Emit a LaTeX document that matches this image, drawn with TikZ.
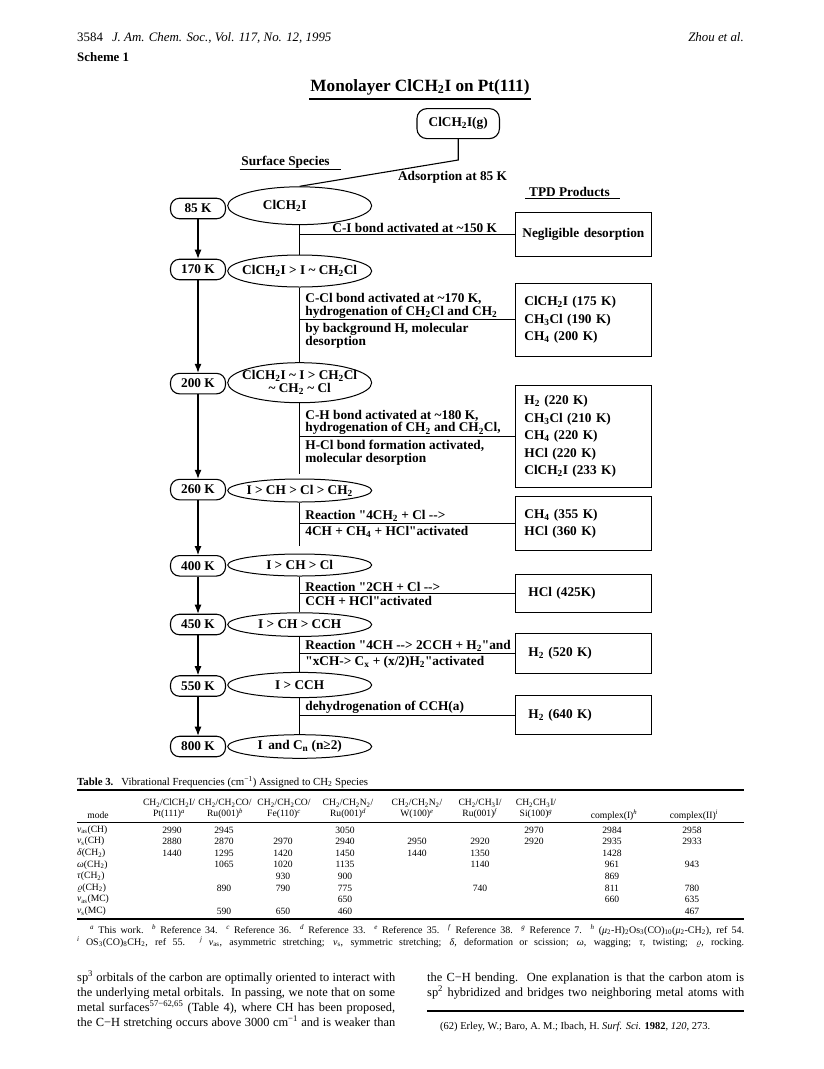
\documentclass[tikz,border=0pt]{standalone}
\usepackage{fontspec}
\setmainfont{Liberation Serif}[Ligatures=TeXOff]
\usepackage{tikz}
\usetikzlibrary{positioning, arrows.meta, calc, shapes.geometric}
\newcommand{\chemsub}[1]{\textsubscript{#1}}
\newcommand{\fnmark}[1]{\textsuperscript{\textit{#1}}}
\newcommand{\tld}{\textasciitilde}
\tikzset{
  headtext/.style={
    inner sep=0pt,
    font=\fontsize{12.9}{14}\selectfont
  },
  titletext/.style={
    inner sep=0pt,
    font=\fontsize{17.2}{18}\selectfont\bfseries
  },
  tempnode/.style={
    rectangle,
    draw,
    rounded corners=9pt,
    line width=1.1pt,
    minimum width=55pt,
    minimum height=20.5pt,
    inner sep=0pt,
    font=\fontsize{13.3}{13}\selectfont\bfseries
  },
  specnode/.style={
    ellipse,
    draw,
    line width=1pt,
    minimum width=144pt,
    inner xsep=-20pt,
    inner ysep=-10pt,
    align=center,
    font=\fontsize{13.3}{13}\selectfont\bfseries
  },
  prodnode/.style={
    rectangle,
    draw,
    line width=1pt,
    minimum width=135.7pt,
    text width=118pt,
    inner xsep=8.8pt,
    inner ysep=0pt,
    align=left,
    font=\fontsize{13.3}{17.5}\selectfont\bfseries
  },
  notetext/.style={
    inner sep=1.5pt,
    align=left,
    font=\fontsize{13.3}{12.8}\selectfont\bfseries
  },
  linkline/.style={
    line width=1.1pt
  },
  tempflow/.style={
    line width=1.1pt,
    -{Latex[length=9pt,width=7pt]}
  },
  modecell/.style={
    anchor=west,
    inner sep=0pt,
    font=\fontsize{9.6}{11}\selectfont
  },
  valcell/.style={
    inner sep=0pt,
    font=\fontsize{9.6}{11}\selectfont
  },
  headcell/.style={
    inner sep=0pt,
    align=center,
    font=\fontsize{9.6}{11}\selectfont
  },
  bodytext/.style={
    anchor=base west,
    inner sep=0pt,
    font=\fontsize{12.4}{15}\selectfont
  }
}
\newcommand{\tabrow}[4]{%
  \node[modecell] (#1) at (77,#2) {#3};
  \foreach \v [count=\i] in {#4} {%
    \pgfmathsetmacro{\cx}{{172,224,283,345,417,480,534,612,692}[\i-1]}%
    \node[valcell] (#1-\i) at (\cx,#2) {\v};
  }%
}

\begin{document}
\begin{tikzpicture}[x=1pt, y=-1pt]
  \useasboundingbox[fill=white] (0,0) rectangle (823,1069);

  % page head
  \node[headtext, anchor=base west] (headl) at (77,41)
    {3584\hspace{9pt}\textit{J. Am. Chem. Soc., Vol. 117, No. 12, 1995}};
  \node[headtext, anchor=base east] (headr) at (744,41) {\textit{Zhou et al.}};
  \node[headtext, anchor=base west] (schemelbl) at (77,61) {\textbf{Scheme 1}};

  % scheme
  \node[titletext, anchor=base] (title) at (420,91) {Monolayer ClCH\chemsub{2}I on Pt(111)};
  \draw[line width=1.6pt] ($(title.base west)+(-1,8)$) -- ($(title.base east)+(1,8)$);

  \node[tempnode, minimum width=82.5pt, minimum height=30pt, rounded corners=10pt] (gas)
    at (458.2,123.6) {ClCH\chemsub{2}I(g)};
  \node[notetext] (surf) at (285.5,162) {Surface Species};
  \draw[line width=1pt] (surf.south west) -- ($(surf.south east)+(10,0)$);
  \node[notetext] (adsorb) at (452.5,177.4) {Adsorption at 85 K};
  \node[notetext] (tpd) at (569.5,191.6) {TPD Products};
  \draw[line width=1pt] ($(tpd.south west)+(-2,0)$) -- ($(tpd.south east)+(8,0)$);

  \node[tempnode] (t85)  at (198,208.5) {85 K};
  \node[tempnode] (t170) at (198,269.5) {170 K};
  \node[tempnode] (t200) at (198,383.6) {200 K};
  \node[tempnode] (t260) at (198,489.6) {260 K};
  \node[tempnode] (t400) at (198,565.8) {400 K};
  \node[tempnode] (t450) at (198,624.5) {450 K};
  \node[tempnode] (t550) at (198,686)   {550 K};
  \node[tempnode] (t800) at (198,746.5) {800 K};

  \node[specnode, minimum height=37.8pt] (e85)  at (299.7,205.7) {ClCH\chemsub{2}I\hspace{30pt}};
  \node[specnode, minimum height=32pt]   (e170) at (299.7,271)   {ClCH\chemsub{2}I > I \tld{} CH\chemsub{2}Cl};
  \node[specnode, minimum height=40pt]   (e200) at (299.7,382.7)
    {ClCH\chemsub{2}I \tld{} I > CH\chemsub{2}Cl\\\tld{} CH\chemsub{2} \tld{} Cl\hspace{20pt}};
  \node[specnode, minimum height=23pt]   (e260) at (299.7,490.5) {I > CH > Cl > CH\chemsub{2}};
  \node[specnode, minimum height=22pt]   (e400) at (299.7,565)   {I > CH > Cl};
  \node[specnode, minimum height=23.6pt] (e450) at (299.7,624.6) {I > CH > CCH};
  \node[specnode, minimum height=25.2pt] (e550) at (299.7,685)   {I > CCH};
  \node[specnode, minimum height=23.6pt] (e800) at (299.7,746.5) {I\, and C\chemsub{n} (n≥2)};

  \node[prodnode, align=center, text width=125pt, inner xsep=5.35pt, minimum height=43.8pt] (p85)
    at (583.4,234.7) {Negligible desorption};
  \node[prodnode, minimum height=72.3pt] (p170) at (583.4,319.9)
    {ClCH\chemsub{2}I (175 K)\\CH\chemsub{3}Cl (190 K)\\CH\chemsub{4} (200 K)};
  \node[prodnode, minimum height=102.7pt] (p200) at (583.4,436.6)
    {H\chemsub{2} (220 K)\\CH\chemsub{3}Cl (210 K)\\CH\chemsub{4} (220 K)\\HCl (220 K)\\ClCH\chemsub{2}I (233 K)};
  \node[prodnode, minimum height=53.9pt] (p260) at (583.4,523.6)
    {CH\chemsub{4} (355 K)\\HCl (360 K)};
  \node[prodnode, minimum height=38.7pt] (p400) at (583.4,593.5) {\hspace{4pt}HCl (425K)};
  \node[prodnode, minimum height=39.7pt] (p450) at (583.4,653.5) {\hspace{4pt}H\chemsub{2} (520 K)};
  \node[prodnode, minimum height=38.7pt] (p550) at (583.4,715.3) {\hspace{4pt}H\chemsub{2} (640 K)};

  \coordinate (bend) at (gas.south |- 0,160);
  \draw[linkline] (gas.south) -- (bend) -- (e85.north);

  \foreach \a/\b in {t85/t170, t170/t200, t200/t260, t260/t400, t400/t450, t450/t550, t550/t800}
    \draw[tempflow] (\a.south) -- (\b.north);

  \foreach \a/\b in {e85/e170, e170/e200, e400/e450, e450/e550, e550/e800}
    \draw[linkline] (\a.south) -- (\b.north);
  \draw[linkline, shorten >=5pt] (e200.south) -- (e260.north);
  \draw[linkline, shorten >=8pt] (e260.south) -- (e400.north);

  \foreach \e/\p in {e85/p85, e170/p170, e200/p200, e260/p260, e400/p400, e450/p450, e550/p550}
    \draw[linkline] (\e.south |- \p.west) -- (\p.west);

  \node[notetext, anchor=south west, xshift=31pt] (n85) at (e85.south |- p85.west)
    {C-I bond activated at \tld150 K};
  \node[notetext, anchor=south west, xshift=4pt] (n170a) at (e170.south |- p170.west)
    {C-Cl bond activated at \tld170 K,\\hydrogenation of CH\chemsub{2}Cl and CH\chemsub{2}};
  \node[notetext, anchor=north west, xshift=4pt, yshift=-2pt] (n170b) at (e170.south |- p170.west)
    {by background H, molecular\\desorption};
  \node[notetext, anchor=south west, xshift=4pt] (n200a) at (e200.south |- p200.west)
    {C-H bond activated at \tld180 K,\\hydrogenation of CH\chemsub{2} and CH\chemsub{2}Cl,};
  \node[notetext, anchor=north west, xshift=4pt, yshift=-2pt] (n200b) at (e200.south |- p200.west)
    {H-Cl bond formation activated,\\molecular desorption};
  \node[notetext, anchor=south west, xshift=4pt] (n260a) at (e260.south |- p260.west)
    {Reaction "4CH\chemsub{2} + Cl -->};
  \node[notetext, anchor=north west, xshift=4pt, yshift=-1pt] (n260b) at (e260.south |- p260.west)
    {4CH + CH\chemsub{4} + HCl"activated};
  \node[notetext, anchor=south west, xshift=4pt] (n400a) at (e400.south |- p400.west)
    {Reaction "2CH + Cl -->};
  \node[notetext, anchor=north west, xshift=4pt, yshift=-1pt] (n400b) at (e400.south |- p400.west)
    {CCH + HCl"activated};
  \node[notetext, anchor=south west, xshift=4pt] (n450a) at (e450.south |- p450.west)
    {Reaction "4CH --> 2CCH + H\chemsub{2}"and};
  \node[notetext, anchor=north west, xshift=4pt, yshift=-1pt] (n450b) at (e450.south |- p450.west)
    {"xCH-> C\chemsub{x} + (x/2)H\chemsub{2}"activated};
  \node[notetext, anchor=south west, xshift=4pt] (n550a) at (e550.south |- p550.west)
    {dehydrogenation of CCH(a)};

  % table
  \node[anchor=west, inner sep=0pt, font=\fontsize{10.8}{12}\selectfont] (tabcap) at (77,782)
    {\textbf{Table 3.}\hspace{8pt}Vibrational Frequencies (cm\textsuperscript{−1}) Assigned to CH\chemsub{2} Species};
  \draw[line width=1.3pt] (77,790) -- (744,790);
  \draw[line width=0.6pt] (77,822) -- (744,822);
  \draw[line width=1.3pt] (77,919) -- (744,919);

  \node[headcell] (hmode) at (98,815) {mode};
  \node[headcell] (h1) at (169,809) {CH\chemsub{2}/ClCH\chemsub{2}I/\\Pt(111)\fnmark{a}};
  \node[headcell] (h2) at (225,809) {CH\chemsub{2}/CH\chemsub{2}CO/\\Ru(001)\fnmark{b}};
  \node[headcell] (h3) at (284,809) {CH\chemsub{2}/CH\chemsub{2}CO/\\Fe(110)\fnmark{c}};
  \node[headcell] (h4) at (348,809) {CH\chemsub{2}/CH\chemsub{2}N\chemsub{2}/\\Ru(001)\fnmark{d}};
  \node[headcell] (h5) at (417,809) {CH\chemsub{2}/CH\chemsub{2}N\chemsub{2}/\\W(100)\fnmark{e}};
  \node[headcell] (h6) at (480,809) {CH\chemsub{2}/CH\chemsub{3}I/\\Ru(001)\fnmark{f}};
  \node[headcell] (h7) at (536,809) {CH\chemsub{2}CH\chemsub{3}I/\\Si(100)\fnmark{g}};
  \node[headcell] (h8) at (614,815) {complex(I)\fnmark{h}};
  \node[headcell] (h9) at (694,815) {complex(II)\fnmark{i}};

  \tabrow{r1}{830}{\textit{ν}\chemsub{as}(CH)}{2990,2945,,3050,,,2970,2984,2958}
  \tabrow{r2}{841.6}{\textit{ν}\chemsub{s}(CH)}{2880,2870,2970,2940,2950,2920,2920,2935,2933}
  \tabrow{r3}{853.2}{\textit{δ}(CH\chemsub{2})}{1440,1295,1420,1450,1440,1350,,1428,}
  \tabrow{r4}{864.8}{\textit{ω}(CH\chemsub{2})}{,1065,1020,1135,,1140,,961,943}
  \tabrow{r5}{876.4}{\textit{τ}(CH\chemsub{2})}{,,930,900,,,,869,}
  \tabrow{r6}{888}{$\varrho$(CH\chemsub{2})}{,890,790,775,,740,,811,780}
  \tabrow{r7}{899.6}{\textit{ν}\chemsub{as}(MC)}{,,,650,,,,660,635}
  \tabrow{r8}{911.2}{\textit{ν}\chemsub{s}(MC)}{,590,650,460,,,,,467}

  \node[anchor=base west, inner sep=0pt, font=\fontsize{10}{11}\selectfont] (foot1) at (90,933)
    {\makebox[654pt][s]{\fnmark{a} This work. \fnmark{b} Reference 34. \fnmark{c} Reference 36. \fnmark{d} Reference 33. \fnmark{e} Reference 35. \fnmark{f} Reference 38. \fnmark{g} Reference 7. \fnmark{h} (\textit{μ}\chemsub{2}-H)\chemsub{2}Os\chemsub{3}(CO)\chemsub{10}(\textit{μ}\chemsub{2}-CH\chemsub{2}), ref 54.}};
  \node[anchor=base west, inner sep=0pt, font=\fontsize{10}{11}\selectfont] (foot2) at (77,945)
    {\makebox[667pt][s]{\fnmark{i} OS\chemsub{3}(CO)\chemsub{8}CH\chemsub{2}, ref 55. \fnmark{j} \textit{ν}\chemsub{as}, asymmetric stretching; \textit{ν}\chemsub{s}, symmetric stretching; \textit{δ}, deformation or scission; \textit{ω}, wagging; \textit{τ}, twisting; $\varrho$, rocking.}};

  % running text
  \node[bodytext] (left1) at (77,981)
    {\makebox[318pt][s]{sp\textsuperscript{3} orbitals of the carbon are optimally oriented to interact with}};
  \node[bodytext] (left2) at (77,996)
    {\makebox[318pt][s]{the underlying metal orbitals.\ \ In passing, we note that on some}};
  \node[bodytext] (left3) at (77,1011)
    {\makebox[318pt][s]{metal surfaces\textsuperscript{57−62,65} (Table 4), where CH has been proposed,}};
  \node[bodytext] (left4) at (77,1026)
    {\makebox[318pt][s]{the C−H stretching occurs above 3000 cm\textsuperscript{−1} and is weaker than}};
  \node[bodytext] (right1) at (427,981)
    {\makebox[317pt][s]{the C−H bending.\ \ One explanation is that the carbon atom is}};
  \node[bodytext] (right2) at (427,996)
    {\makebox[317pt][s]{sp\textsuperscript{2} hybridized and bridges two neighboring metal atoms with}};
  \draw[line width=1.2pt] (427,1011) -- (744,1011);
  \node[bodytext, font=\fontsize{10.5}{12}\selectfont] (ref62) at (440,1029)
    {(62) Erley, W.; Baro, A. M.; Ibach, H. \textit{Surf. Sci.} \textbf{1982}, \textit{120}, 273.};
\end{tikzpicture}
\end{document}
